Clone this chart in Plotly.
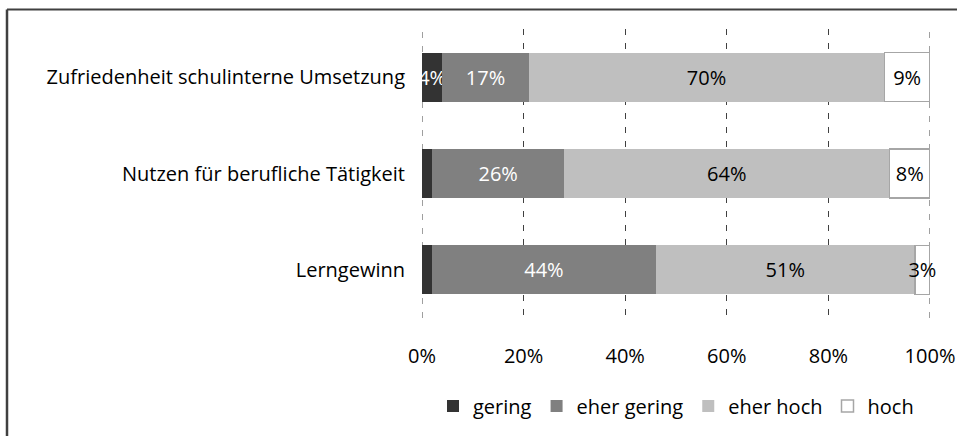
import plotly.graph_objects as go

categories = ["Zufriedenheit schulinterne Umsetzung", "Nutzen für berufliche Tätigkeit", "Lerngewinn"]
series_names = ["gering", "eher gering", "eher hoch", "hoch"]
gering = [4, 2, 2]
eher_gering = [17, 26, 44]
eher_hoch = [70, 64, 51]
hoch = [9, 8, 3]
gering_labels = ["4%", "", ""]
eher_gering_labels = ["17%", "26%", "44%"]
eher_hoch_labels = ["70%", "64%", "51%"]
hoch_labels = ["9%", "8%", "3%"]
x_ticks = [0, 20, 40, 60, 80, 100]
x_tick_labels = ["0%", "20%", "40%", "60%", "80%", "100%"]

FONT = "Open Sans, Noto Sans, sans-serif"
FS = 20

series = [
    (series_names[0], gering, gering_labels, "#333333", "#333333", "white"),
    (series_names[1], eher_gering, eher_gering_labels, "#808080", "#808080", "white"),
    (series_names[2], eher_hoch, eher_hoch_labels, "#BFBFBF", "#BFBFBF", "black"),
    (series_names[3], hoch, hoch_labels, "#FFFFFF", "#A6A6A6", "black"),
]

fig = go.Figure()
for name, vals, labels, fill, line, tcol in series:
    fig.add_trace(go.Bar(
        name=name, y=categories, x=vals, orientation="h",
        text=labels, textposition="inside", insidetextanchor="middle", textangle=0,
        textfont=dict(color=tcol, size=FS, family=FONT),
        marker=dict(color=fill, line=dict(color=line, width=1.5 if name == "hoch" else 0)),
        cliponaxis=False, hoverinfo="skip",
    ))

W, H = 957, 436
L, R, T, B = 422, 27, 29, 118
pw, ph = W - L - R, H - T - B

fig.update_layout(
    barmode="stack", bargap=0.49,
    width=W, height=H,
    margin=dict(l=L, r=R, t=T, b=B, autoexpand=False),
    paper_bgcolor="white", plot_bgcolor="white",
    font=dict(family=FONT, size=FS, color="black"),
    uniformtext=dict(mode="show", minsize=FS),
    legend=dict(orientation="h", x=0.5, xanchor="center", y=(318 - 406) / ph, yanchor="middle",
                font=dict(size=FS), traceorder="normal", itemwidth=30),
    showlegend=True,
)
fig.update_xaxes(range=[0, 100], tickvals=x_ticks, ticktext=x_tick_labels, automargin=False,
                 showgrid=True, gridcolor="#404040", gridwidth=1, griddash="6px,8px",
                 zeroline=False, showline=False, ticks="", ticklabelstandoff=24,
                 tickfont=dict(size=FS))
fig.update_yaxes(autorange="reversed", showgrid=False, showline=False, ticks="", automargin=False,
                 ticklabelstandoff=16, tickfont=dict(size=FS))

# gridlines at the range edges (0% and 100%)
for xv in (x_ticks[0], x_ticks[-1]):
    fig.add_shape(type="line", xref="x", yref="paper", x0=xv, x1=xv, y0=0, y1=1,
                  line=dict(color="#404040", width=1, dash="6px,8px"), layer="below")

# outer chart border (left and top visible)
bx = (7 - L) / pw
by = 1 + (T - 9.5) / ph
fig.add_shape(type="line", xref="paper", yref="paper", x0=bx, x1=bx, y0=by, y1=-1,
              line=dict(color="#404040", width=2.5))
fig.add_shape(type="line", xref="paper", yref="paper", x0=bx, x1=1.2, y0=by, y1=by,
              line=dict(color="#404040", width=2))

fig.write_html("out.html", config={"displayModeBar": False},
               post_script="document.body.style.margin='0';")
